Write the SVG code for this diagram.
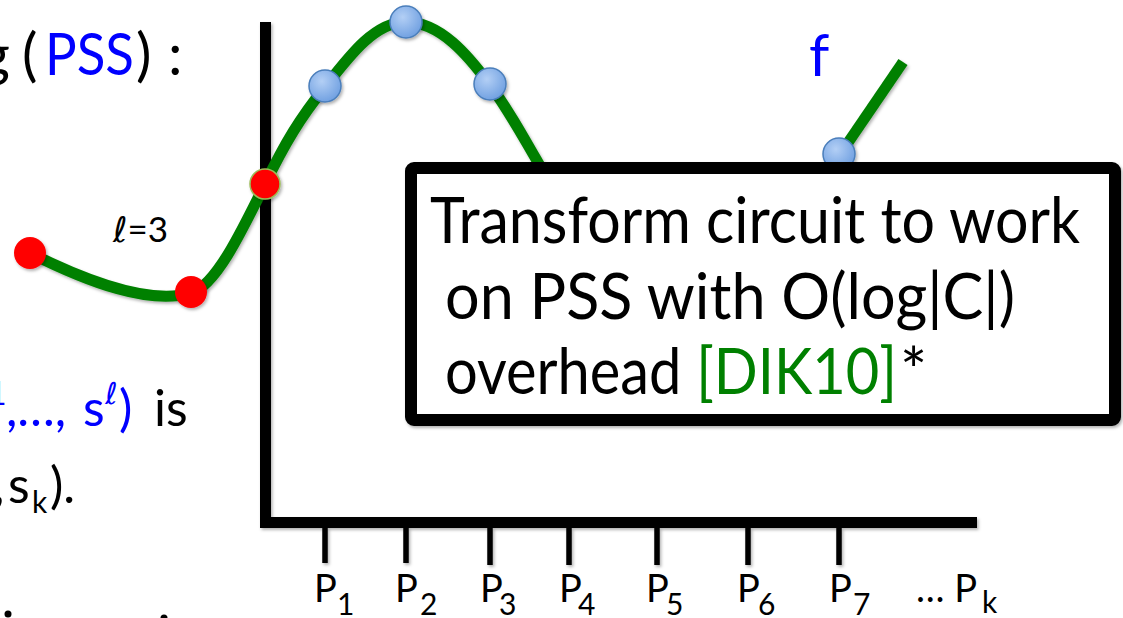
<svg xmlns="http://www.w3.org/2000/svg" width="1123" height="618" viewBox="0 0 1123 618">
<style>
text{font-family:Lato,"Liberation Sans","DejaVu Sans",sans-serif;fill:#000}
.blue{fill:#0000ff}
.grn{fill:#008000}
.axis{fill:none;stroke:#000;stroke-width:11;stroke-linejoin:miter}
.tick{stroke:#000;stroke-width:5.5}
.curve{fill:none;stroke:#008000;stroke-width:11}
.red{fill:#ff0000}
.bdot{fill:url(#bg);stroke:#4a7ebb;stroke-width:1.5}
.lbl{font-size:38px}
.sub{font-size:30px}
</style>
<defs>
<filter id="sh" x="-10%" y="-10%" width="130%" height="130%">
<feDropShadow dx="1.5" dy="2" stdDeviation="1.5" flood-color="#000" flood-opacity="0.3"/>
</filter>
<radialGradient id="bg" cx="40%" cy="35%" r="70%">
<stop offset="0" stop-color="#b3cff5"/>
<stop offset="1" stop-color="#6d9ee0"/>
</radialGradient>
</defs>
<rect width="1123" height="618" fill="#fff"/>

<g id="text-left">
<text x="10" y="75" font-size="58" text-anchor="end">g</text>
<text x="22" y="75" font-size="58">(</text>
<text class="blue" x="45" y="75" font-size="58" textLength="89" lengthAdjust="spacingAndGlyphs">PSS</text>
<text x="136" y="75" font-size="58">)</text>
<text x="168" y="75" font-size="58">:</text>
<text x="113" y="242" font-size="35"><tspan font-style="italic" font-family="DejaVu Sans">ℓ</tspan>=3</text>
<text y="426" font-size="50"><tspan class="blue" x="-12" y="405" font-size="32">1</tspan><tspan class="blue" x="6" y="426">,…,</tspan><tspan class="blue" x="83" y="426">s</tspan><tspan class="blue" x="105" y="404" font-size="30" font-style="italic" font-family="DejaVu Sans">ℓ</tspan><tspan class="blue" x="119" y="426">)</tspan><tspan x="154" y="426">is</tspan></text>
<text y="503" font-size="50"><tspan x="-7">,</tspan><tspan x="8">s</tspan><tspan x="32" y="513" font-size="30">k</tspan><tspan x="50" y="503">).</tspan></text>
<circle cx="8" cy="614" r="3.5"/>
<circle cx="164" cy="618" r="3.5"/>
</g>

<g id="axes" filter="url(#sh)">
<polyline class="axis" points="265.5,22 265.5,522.5 977,522.5"/>
<line class="tick" x1="325" y1="527" x2="325" y2="563"/>
<line class="tick" x1="406" y1="527" x2="406" y2="563"/>
<line class="tick" x1="490" y1="527" x2="490" y2="565"/>
<line class="tick" x1="569" y1="527" x2="569" y2="565"/>
<line class="tick" x1="657" y1="527" x2="657" y2="565"/>
<line class="tick" x1="748" y1="527" x2="748" y2="565"/>
<line class="tick" x1="839" y1="527" x2="839" y2="565"/>
</g>

<g id="tick-labels">
<text class="lbl" y="602"><tspan x="314">P</tspan><tspan class="sub" x="337" y="615">1</tspan></text>
<text class="lbl" y="602"><tspan x="395">P</tspan><tspan class="sub" x="420" y="615">2</tspan></text>
<text class="lbl" y="602"><tspan x="480">P</tspan><tspan class="sub" x="499" y="615">3</tspan></text>
<text class="lbl" y="602"><tspan x="559">P</tspan><tspan class="sub" x="578" y="615">4</tspan></text>
<text class="lbl" y="602"><tspan x="646">P</tspan><tspan class="sub" x="666" y="615">5</tspan></text>
<text class="lbl" y="602"><tspan x="737">P</tspan><tspan class="sub" x="758" y="615">6</tspan></text>
<text class="lbl" y="602"><tspan x="829">P</tspan><tspan class="sub" x="853" y="615">7</tspan></text>
<text class="lbl" y="602"><tspan x="916">… P</tspan><tspan class="sub" x="982" y="613">k</tspan></text>
</g>

<g id="connectors" filter="url(#sh)">
<path class="curve" d="M30 253 C90 283 150 305 191 293 C215 286 240 235 265 184 C285 143 300 118 325 87 C350 55 375 22 406 22 C440 22 468 55 490 85 C510 112 525 140 548 180"/>
<line class="curve" x1="828" y1="172" x2="903" y2="62"/>
</g>

<g id="f-label">
<text class="blue" x="809" y="76" font-size="58">f</text>
</g>

<g id="points" filter="url(#sh)">
<circle class="red" cx="30" cy="253" r="16"/>
<circle class="red" cx="191" cy="292" r="16"/>
<circle class="red" cx="265" cy="184" r="15" stroke="#9bbb59" stroke-width="1.5"/>
<circle class="bdot" cx="325" cy="86" r="16"/>
<circle class="bdot" cx="406" cy="22" r="16"/>
<circle class="bdot" cx="490" cy="84" r="16"/>
<circle class="bdot" cx="839" cy="154" r="16"/>
</g>

<g id="box">
<rect x="411" y="168" width="704" height="252" rx="3" fill="#fff" stroke="#000" stroke-width="12" filter="url(#sh)"/>
<text x="430" y="243" font-size="64" textLength="650" lengthAdjust="spacingAndGlyphs">Transform circuit to work</text>
<text x="445" y="319" font-size="64" textLength="570" lengthAdjust="spacingAndGlyphs">on PSS with O(log|C|)</text>
<text x="445" y="394" font-size="64"><tspan textLength="452" lengthAdjust="spacingAndGlyphs">overhead <tspan class="grn">[DIK10]</tspan></tspan><tspan x="900">*</tspan></text>
</g>
</svg>
